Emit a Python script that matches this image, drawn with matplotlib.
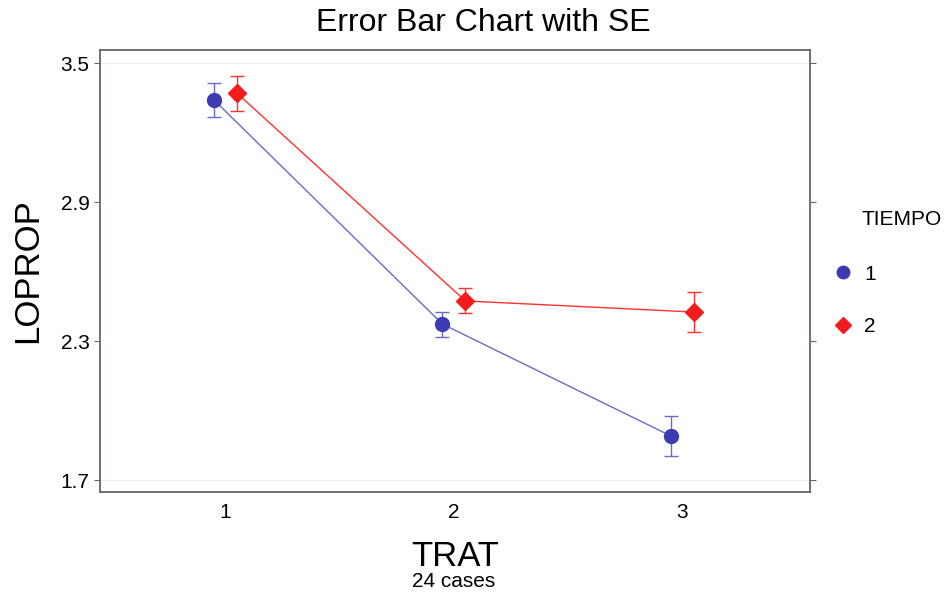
import numpy as np
import matplotlib.pyplot as plt
from matplotlib.lines import Line2D

plt.rcParams['font.family'] = ['Liberation Sans', 'DejaVu Sans']

trat = [1, 2, 3]
xticklabels = ['1', '2', '3']
yticks = [1.7, 2.3, 2.9, 3.5]

# TIEMPO 1
mean1 = [3.34, 2.373, 1.89]
se1 = [0.075, 0.054, 0.085]
# TIEMPO 2
mean2 = [3.37, 2.473, 2.425]
se2 = [0.075, 0.054, 0.085]

offset = 0.05
blue_line = '#6a6ac8'
blue_mark = '#3c3cb0'
red_line = '#ff3030'
red_mark = '#f21c1c'
spine_col = '#6e6262'

fig = plt.figure(figsize=(9.51, 6.03), dpi=100)
ax = fig.add_axes([0.105, 0.184, 0.747, 0.733])

x = np.array(trat, dtype=float)
ax.plot(x - offset, mean1, color=blue_line, lw=1.0, zorder=2)
ax.errorbar(x - offset, mean1, yerr=se1, fmt='o', color=blue_mark, ecolor=blue_line,
            ms=10, elinewidth=1.0, capsize=5, capthick=1.0, zorder=3)
ax.plot(x + offset, mean2, color=red_line, lw=1.0, zorder=2)
ax.errorbar(x + offset, mean2, yerr=se2, fmt='D', color=red_mark, ecolor=red_line,
            ms=9, elinewidth=1.0, capsize=5, capthick=1.0, zorder=3)

ax.set_xlim(0.45, 3.56)
ax.set_ylim(1.648, 3.556)
ax.set_xticks(trat)
ax.set_xticklabels(xticklabels)
ax.set_yticks(yticks)
ax.set_yticklabels(['%.1f' % v for v in yticks])
for v in [1.7, 3.5]:
    ax.axhline(v, color='#eeeeee', lw=0.8, zorder=1)

for s in ax.spines.values():
    s.set_color(spine_col)
    s.set_linewidth(1.3)
ax.tick_params(axis='both', direction='out', length=4, color=spine_col,
               labelsize=15, right=True, labelright=False)
ax.tick_params(axis='x', length=0, pad=8)

fig.text(0.508, 0.962, 'Error Bar Chart with SE', fontsize=23, ha='center', va='center')
ax.set_ylabel('LOPROP', fontsize=25, labelpad=12)
ax.set_xlabel('TRAT', fontsize=25, labelpad=13)
fig.text(0.477, 0.026, '24 cases', fontsize=15, ha='center')

fig.text(0.906, 0.636, 'TIEMPO', fontsize=15, va='center')
handles = [Line2D([], [], marker='o', ls='none', color=blue_mark, ms=9),
           Line2D([], [], marker='D', ls='none', color=red_mark, ms=8)]
fig.legend(handles, ['1', '2'], loc='upper left', bbox_to_anchor=(0.856, 0.592),
           frameon=False, fontsize=15, labelspacing=1.6, handlelength=1.0,
           handletextpad=0.5)

fig.savefig('out.png', dpi=100)
